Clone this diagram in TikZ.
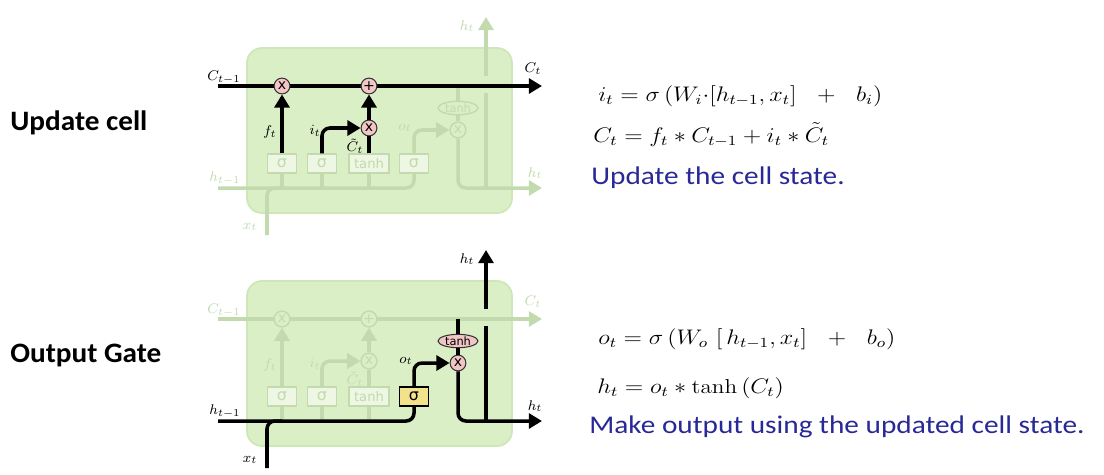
\documentclass[tikz,border=0pt]{standalone}
\usepackage{amsmath}
\usepackage{fontspec}
\usepackage{tikz}
\usetikzlibrary{arrows.meta,shapes.geometric}
\newfontfamily\slidefont{Carlito}
\newfontfamily\gatefont{DejaVu Sans}
\definecolor{cellgreen}{RGB}{219,239,199}
\definecolor{celledge}{RGB}{206,231,184}
\definecolor{faded}{RGB}{194,218,174}
\definecolor{pointpink}{RGB}{243,198,198}
\definecolor{gateyellow}{RGB}{242,226,140}
\definecolor{noteblue}{RGB}{40,40,150}

\tikzset{
  flow/.style={line width=2pt, rounded corners=4.5pt},
  tip/.style={-{Triangle[length=7.5pt,width=8.5pt]}},
  live/.style={flow, black},
  dim/.style={flow, faded},
  cell/.style={fill=cellgreen, draw=celledge, line width=1pt, rounded corners=8.5pt},
  point/.style={circle, minimum size=9pt, inner sep=0pt, font=\gatefont\fontsize{8}{8}\selectfont},
  livept/.style={point, fill=pointpink, draw=black!80, line width=0.6pt},
  dimpt/.style={point, fill=cellgreen, draw=faded, text=faded, line width=0.8pt},
  oval/.style={ellipse, minimum width=22.7pt, minimum height=7.6pt, inner sep=0pt, font=\gatefont\fontsize{6.5}{6.5}\selectfont},
  liveoval/.style={oval, fill=pointpink, draw=black!80, line width=0.6pt},
  dimoval/.style={oval, fill=cellgreen, draw=faded, text=faded, line width=0.8pt},
  layer/.style={rectangle, minimum height=10.8pt, minimum width=16.4pt, inner sep=0.5pt, font=\gatefont\fontsize{9}{9}\selectfont},
  dimlayer/.style={layer, fill=cellgreen!50!white, draw=faded, text=faded, line width=0.8pt},
  livelayer/.style={layer, fill=gateyellow, draw=black, line width=0.8pt},
  lbl/.style={inner sep=0pt, font=\fontsize{8.5}{10}\selectfont},
  dimlbl/.style={lbl, text=faded},
  tag/.style={anchor=base west, inner sep=0pt, font=\slidefont\bfseries\fontsize{16}{19}\selectfont},
  note/.style={anchor=base west, inner sep=0pt, text=noteblue, font=\slidefont\fontsize{14.5}{17}\selectfont},
  eq/.style={anchor=base west, inner sep=0pt, font=\fontsize{11.5}{13}\selectfont}
}

\begin{document}
\begin{tikzpicture}[x=0.02cm, y=-0.02cm]
  \useasboundingbox (0,0) rectangle (1104,474);

  % ---- update cell (top) ----
  \draw[cell] (247,48) rectangle (512,213);
  \coordinate (uCin) at (218,86);
  \coordinate (uCout) at (542,86);
  \coordinate (uhin) at (218,188);
  \coordinate (uhout) at (542,188);
  \coordinate (uxin) at (267,235);
  \coordinate (utap) at (458,88);
  \coordinate (uhfoot) at (486,188);
  \coordinate (ugapl) at (486,93);
  \coordinate (ugaph) at (486,76);
  \coordinate (uhup) at (486,17);
  % faded part
  \node[dimlayer] (ubf) at (282,163.5) {σ};
  \node[dimlayer] (ubi) at (322,163.5) {σ};
  \node[dimlayer, minimum width=22.7pt, font=\gatefont\fontsize{7.5}{7.5}\selectfont] (ubc) at (369,163.5) {tanh};
  \node[dimlayer] (ubo) at (414,163.5) {σ};
  \node[dimoval] (uth) at (458,108) {tanh};
  \node[dimpt] (uox) at (458,130) {x};
  \draw[dim] (uhin) -| (ubo);
  \draw[dim] (uxin) |- (ubf.south |- uhin);
  \foreach \g in {ubf,ubi,ubc}
    \draw[dim] (\g) -- (\g.south |- uhin);
  \draw[dim, tip] (ubo) |- (uox);
  \draw[dim] (utap) -- (uth);
  \draw[dim] (uth) -- (uox);
  \draw[dim, tip] (uox) |- (uhout);
  \draw[dim] (uhfoot) -- (ugapl);
  \draw[dim, tip] (ugaph) -- (uhup);
  \node[dimlbl] (uhprev) at (225,178) {$h_{t-1}$};
  \node[dimlbl] (uxlbl) at (250,227) {$x_t$};
  \node[dimlbl] (uolbl) at (405,128) {$o_t$};
  \node[dimlbl] (uhtop) at (467,26) {$h_t$};
  \node[dimlbl] (uhright) at (535,173) {$h_t$};
  % highlighted part
  \draw[live, tip] (uCin) -- (uCout);
  \node[livept] (ufx) at (282,86) {x};
  \node[livept] (uad) at (369,86) {+};
  \node[livept] (uix) at (369,128) {x};
  \draw[live, tip] (ubf) -- (ufx);
  \draw[live, tip] (ubi) |- (uix);
  \draw[live] (ubc) -- (uix);
  \draw[live, tip] (uix) -- (uad);
  \node[lbl] (uCprev) at (224,77) {$C_{t-1}$};
  \node[lbl] (uCnext) at (533,69) {$C_t$};
  \node[lbl] (uflbl) at (270,132) {$f_t$};
  \node[lbl] (uilbl) at (315,131) {$i_t$};
  \node[lbl] (uclbl) at (355,146) {$\tilde{C}_t$};

  % ---- output gate (bottom) ----
  \begin{scope}[shift={(0,233)}]
    \draw[cell] (247,48) rectangle (512,213);
    \coordinate (gCin) at (218,86);
    \coordinate (gCout) at (542,86);
    \coordinate (ghin) at (218,188);
    \coordinate (ghout) at (542,188);
    \coordinate (gxin) at (267,235);
    \coordinate (gtap) at (458,86);
    \coordinate (ghfoot) at (486,188);
    \coordinate (ggapl) at (486,93);
    \coordinate (ggaph) at (486,76);
    \coordinate (ghup) at (486,17);
    % faded part
    \draw[dim, tip] (gCin) -- (gCout);
    \node[dimpt] (gfx) at (282,86) {x};
    \node[dimpt] (gad) at (369,86) {+};
    \node[dimpt] (gix) at (369,128) {x};
    \node[dimlayer] (gbf) at (282,163.5) {σ};
    \node[dimlayer] (gbi) at (322,163.5) {σ};
    \node[dimlayer, minimum width=22.7pt, font=\gatefont\fontsize{7.5}{7.5}\selectfont] (gbc) at (369,163.5) {tanh};
    \foreach \g in {gbf,gbi,gbc}
      \draw[dim] (\g) -- (\g.south |- ghin);
    \draw[dim, tip] (gbf) -- (gfx);
    \draw[dim, tip] (gbi) |- (gix);
    \draw[dim] (gbc) -- (gix);
    \draw[dim, tip] (gix) -- (gad);
    \node[dimlbl] (gCprev) at (224,77) {$C_{t-1}$};
    \node[dimlbl] (gCnext) at (533,69) {$C_t$};
    \node[dimlbl] (gflbl) at (270,132) {$f_t$};
    \node[dimlbl] (gilbl) at (315,131) {$i_t$};
    \node[dimlbl] (gclbl) at (355,146) {$\tilde{C}_t$};
    % highlighted part
    \node[livelayer] (gbo) at (414,163.5) {σ};
    \node[liveoval] (gth) at (458,108) {tanh};
    \node[livept] (gox) at (458,130) {x};
    \draw[live] (ghin) -| (gbo);
    \draw[live] (gxin) |- (gbf.south |- ghin);
    \draw[live, tip] (gbo) |- (gox);
    \draw[live] (gtap) -- (gth);
    \draw[live] (gth) -- (gox);
    \draw[live, tip] (gox) |- (ghout);
    \draw[live] (ghfoot) -- (ggapl);
    \draw[live, tip] (ggaph) -- (ghup);
    \node[lbl] (ghprev) at (225,178) {$h_{t-1}$};
    \node[lbl] (gxlbl) at (250,227) {$x_t$};
    \node[lbl] (golbl) at (406,128) {$o_t$};
    \node[lbl] (ghtop) at (467,26) {$h_t$};
    \node[lbl] (ghright) at (535,173) {$h_t$};
  \end{scope}

  % ---- left tags ----
  \node[tag] (tagupd) at (10,130) {\scalebox{1.04}[1]{Update cell}};
  \node[tag] (tagout) at (10,362) {\scalebox{1.04}[1]{Output Gate}};

  % ---- equations and notes ----
  \node[eq] (eqi) at (598,101)
    {\scalebox{1.15}[1]{$i_t = \sigma\,(W_i{\cdot}[h_{t-1}, x_t]\ \ +\ \ b_i)$}};
  \node[eq] (eqc) at (593,142)
    {\scalebox{1.15}[1]{$C_t = f_t * C_{t-1} + i_t * \tilde{C}_t$}};
  \node[note] (noteupd) at (591,184) {\scalebox{1.15}[1]{Update the cell state.}};
  \node[eq] (eqo) at (598,344)
    {\scalebox{1.15}[1]{$o_t = \sigma\,(W_o\ [\,h_{t-1}, x_t]\ \ +\ \ b_o)$}};
  \node[eq] (eqh) at (597,393)
    {\scalebox{1.15}[1]{$h_t = o_t * \tanh\,(C_t)$}};
  \node[note] (noteout) at (589,433) {\scalebox{1.15}[1]{Make output using the updated cell state.}};
\end{tikzpicture}
\end{document}
